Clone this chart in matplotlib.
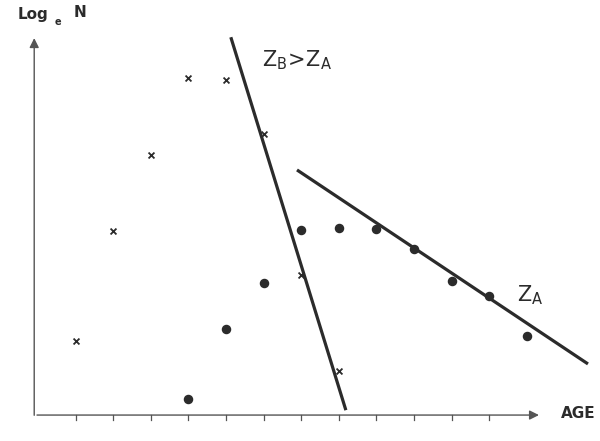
import matplotlib

matplotlib.use("Agg")

import matplotlib.pyplot as plt

# ages and log-numbers
cross_age = [1, 2, 3, 4, 5, 6, 7, 8]
cross_logn = [1.97, 4.89, 6.91, 8.96, 8.91, 7.47, 3.72, 1.17]
dot_age = [4, 5, 6, 7, 8, 9, 10, 11, 12, 13]
dot_logn = [0.43, 2.29, 3.51, 4.92, 4.97, 4.95, 4.41, 3.56, 3.16, 2.10]

# fitted catch curves (end points)
zb_age = [5.13, 8.19]
zb_logn = [10.05, 0.13]
za_age = [6.89, 14.63]
za_logn = [6.52, 1.36]

tick_ages = list(range(1, 13))

C_INK = "#2b2b2b"
C_AXIS = "#555555"
FONT = ["Liberation Sans Narrow", "DejaVu Sans"]

plt.rcParams["mathtext.fontset"] = "custom"
plt.rcParams["mathtext.rm"] = "Liberation Sans Narrow"
plt.rcParams["mathtext.it"] = "Liberation Sans Narrow"

fig = plt.figure(figsize=(6.0, 4.41), dpi=100)
ax = fig.add_axes([0, 0, 1, 1])
ax.set_xlim(-1.01, 14.95)
ax.set_ylim(-0.69, 11.04)
ax.axis("off")

# axes with arrow heads
ax.annotate("", xy=(13.4, 0.0), xytext=(-0.1, 0.0),
            arrowprops=dict(arrowstyle="-|>", color=C_AXIS, lw=1.0, mutation_scale=14))
ax.annotate("", xy=(-0.1, 10.1), xytext=(-0.1, -0.08),
            arrowprops=dict(arrowstyle="-|>", color=C_AXIS, lw=1.0, mutation_scale=14))
for t in tick_ages:
    ax.plot([t, t], [0, -0.13], color=C_AXIS, lw=0.9)

# points
ax.scatter(cross_age, cross_logn, marker="x", s=18, color=C_INK, linewidths=1.3, zorder=3)
ax.scatter(dot_age, dot_logn, marker="o", s=34, color=C_INK, zorder=3)

# lines
ax.plot(zb_age, zb_logn, color=C_INK, lw=2.3, solid_capstyle="butt")
ax.plot(za_age, za_logn, color=C_INK, lw=2.3, solid_capstyle="butt")

# labels
ax.text(-0.55, 10.65, "Log", fontsize=11, fontweight="bold", family=FONT,
        color=C_INK, ha="left", va="center")
ax.text(0.45, 10.45, "e", fontsize=7, fontweight="bold", family=FONT,
        color=C_INK, ha="left", va="center")
ax.text(0.95, 10.7, "N", fontsize=11, fontweight="bold", family=FONT,
        color=C_INK, ha="left", va="center")
ax.text(13.9, 0.05, "AGE", fontsize=11, color=C_INK, ha="left", va="center",
        family=FONT, fontweight="bold")
ax.text(5.95, 9.45, r"$\mathregular{Z_B\!>\!Z_A}$", fontsize=15, color=C_INK,
        ha="left", va="center", family=FONT)
ax.text(12.75, 3.2, r"$\mathregular{Z_A}$", fontsize=15, color=C_INK,
        ha="left", va="center", family=FONT)

fig.savefig("out.png", dpi=100, facecolor="white")
plt.close(fig)
